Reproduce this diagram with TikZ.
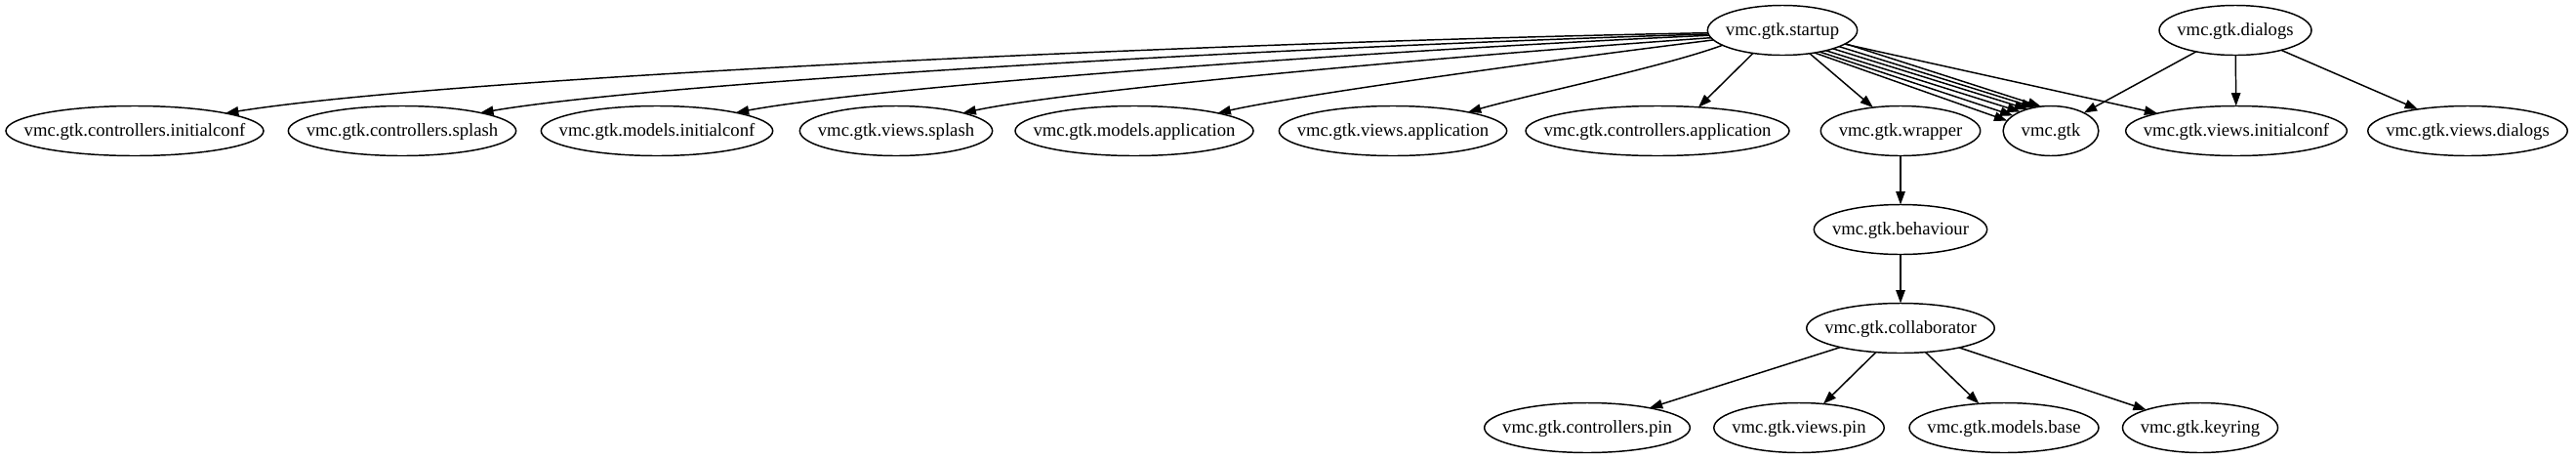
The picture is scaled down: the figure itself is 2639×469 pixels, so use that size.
\documentclass[tikz,border=0pt]{standalone}
\usepackage{fontspec}
\setmainfont{Liberation Serif}
\usetikzlibrary{shapes.geometric,arrows.meta}
\newcommand\gvfont{\fontsize{14pt}{16.8pt}\selectfont}
\newcommand\gvt[1]{\makebox[0pt]{#1}}
\tikzset{
  gv/.style={ellipse, draw, line width=1.1pt, inner sep=0pt, outer sep=0pt,
    minimum height=38.25pt, text height=10.5pt, text depth=1.7pt, font=\gvfont},
  ed/.style={line width=1.1pt, -{Triangle[length=10pt,width=7pt]}}
}
\begin{document}
\begin{tikzpicture}[x=0.75pt,y=-0.75pt]
\useasboundingbox (0,0) rectangle (2639,469);
\node[gv, minimum width=115pt]   (st) at (1826,31)  {\gvt{vmc.gtk.startup}};
\node[gv, minimum width=117pt]   (dl) at (2290,31)  {\gvt{vmc.gtk.dialogs}};
\node[gv, minimum width=198pt]   (ci) at (138,134)  {\gvt{vmc.gtk.controllers.initialconf}};
\node[gv, minimum width=175pt]   (cs) at (412,134)  {\gvt{vmc.gtk.controllers.splash}};
\node[gv, minimum width=178pt]   (mi) at (673,134)  {\gvt{vmc.gtk.models.initialconf}};
\node[gv, minimum width=148pt]   (vs) at (918,134)  {\gvt{vmc.gtk.views.splash}};
\node[gv, minimum width=183pt]   (ma) at (1162,134) {\gvt{vmc.gtk.models.application}};
\node[gv, minimum width=175pt]   (va) at (1427,134) {\gvt{vmc.gtk.views.application}};
\node[gv, minimum width=202.5pt] (ca) at (1698,134) {\gvt{vmc.gtk.controllers.application}};
\node[gv, minimum width=122.6pt] (wr) at (1947,134) {\gvt{vmc.gtk.wrapper}};
\node[gv, minimum width=73.3pt]  (gt) at (2101,134) {\gvt{vmc.gtk}};
\node[gv, minimum width=170pt]   (vi) at (2291,134) {\gvt{vmc.gtk.views.initialconf}};
\node[gv, minimum width=153.4pt] (vd) at (2528,134) {\gvt{vmc.gtk.views.dialogs}};
\node[gv, minimum width=133pt]   (be) at (1947,235) {\gvt{vmc.gtk.behaviour}};
\node[gv, minimum width=144.4pt] (co) at (1947,336) {\gvt{vmc.gtk.collaborator}};
\node[gv, minimum width=158pt]   (cp) at (1626,438) {\gvt{vmc.gtk.controllers.pin}};
\node[gv, minimum width=130.8pt] (vp) at (1843,438) {\gvt{vmc.gtk.views.pin}};
\node[gv, minimum width=145.5pt] (mb) at (2053,438) {\gvt{vmc.gtk.models.base}};
\node[gv, minimum width=119.3pt] (kr) at (2254,438) {\gvt{vmc.gtk.keyring}};
% startup to the left
\draw[ed] (st.182) .. controls +(181.1:399pt) and +(9.1:171pt) .. (ci.11);
\draw[ed] (st.183) .. controls +(181.7:328pt) and +(9.7:140pt) .. (cs.13);
\draw[ed] (st.184) .. controls +(182.6:259pt) and +(10.6:111pt) .. (mi.13);
\draw[ed] (st.186) .. controls +(184:201pt) and +(12:86pt) .. (vs.15);
\draw[ed] (st.188) .. controls +(187:132pt) and +(13:57pt) .. (ma.12);
\draw[ed] (st.194) .. controls +(200:50pt) and +(16:50pt) .. (va.14);
\draw[ed] (st.-142) -- (ca.30);
\draw[ed] (st) -- (wr);
% startup to vmc.gtk (six edges)
\draw[ed] (st.-12) -- (gt.112);
\draw[ed] (st.-16) -- (gt.125);
\draw[ed] (st.-20) -- (gt.137);
\draw[ed] (st.-25) -- (gt.148);
\draw[ed] (st.-30) -- (gt.158);
\draw[ed] (st.-35) -- (gt.167);
\draw[ed] (st) -- (vi);
% dialogs
\draw[ed] (dl) -- (gt);
\draw[ed] (dl) -- (vi);
\draw[ed] (dl) -- (vd);
% chain
\draw[ed] (wr) -- (be);
\draw[ed] (be) -- (co);
\draw[ed] (co) -- (cp);
\draw[ed] (co) -- (vp);
\draw[ed] (co) -- (mb);
\draw[ed] (co) -- (kr);
\end{tikzpicture}
\end{document}
